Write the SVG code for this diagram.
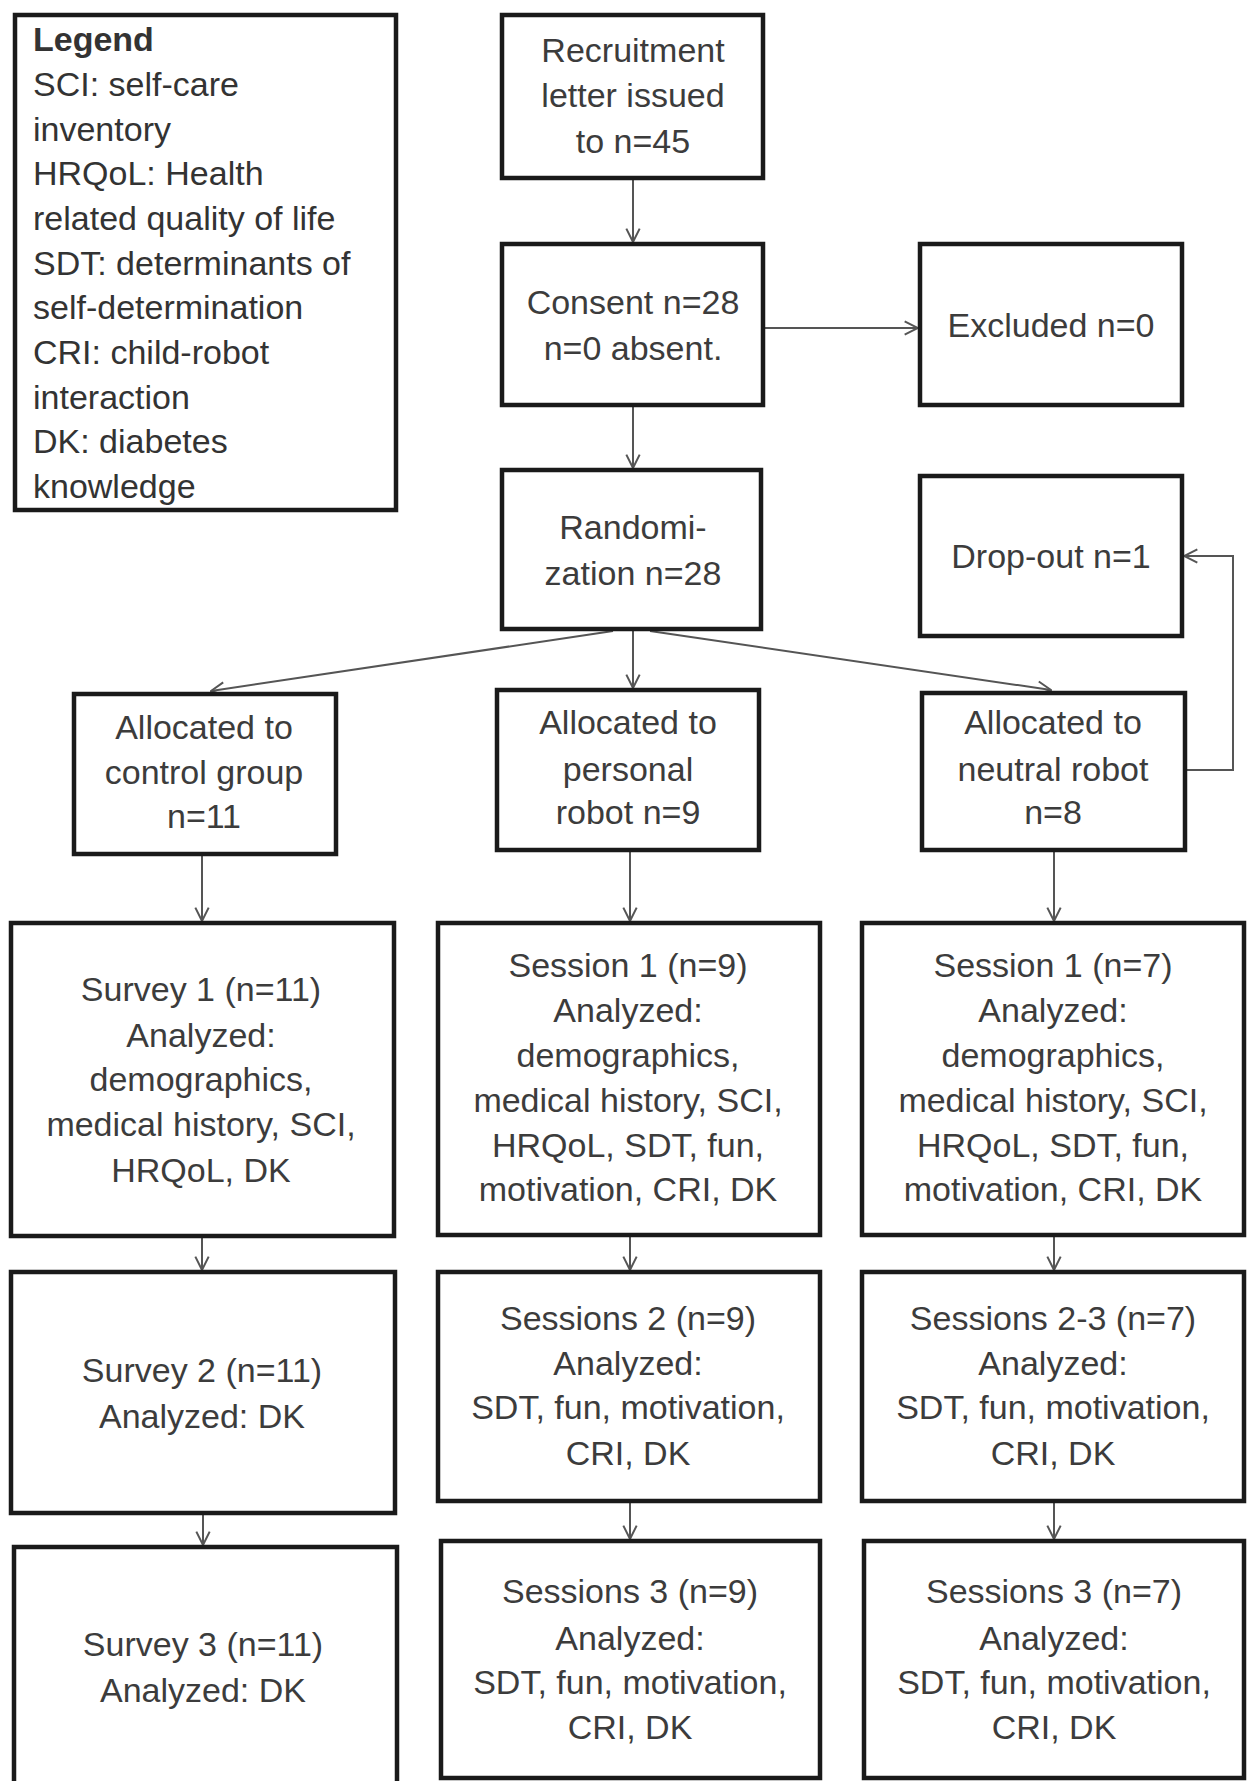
<svg xmlns="http://www.w3.org/2000/svg" width="1247" height="1781" viewBox="0 0 1247 1781">
<style>
.box{fill:#fff;stroke:#1a1a1a;stroke-width:4.5}
.t{font-family:"Liberation Sans",Arial,sans-serif;font-size:34px;fill:#3c3c3c;text-anchor:middle}
.lg{font-family:"Liberation Sans",Arial,sans-serif;font-size:34px;fill:#333}
.c{fill:none;stroke:#555;stroke-width:2}
</style>
<defs>
<marker id="arr" viewBox="0 0 12 12" refX="11" refY="6" markerWidth="16" markerHeight="16" markerUnits="userSpaceOnUse" orient="auto">
<path d="M1,1 L11,6 L1,11" fill="none" stroke="#555" stroke-width="1.5"/>
</marker>
</defs>
<rect width="1247" height="1781" fill="#fff"/>

<g id="connectors">
<line class="c" x1="633" y1="178" x2="633" y2="242" marker-end="url(#arr)"/>
<line class="c" x1="763" y1="328" x2="918" y2="328" marker-end="url(#arr)"/>
<line class="c" x1="633" y1="405" x2="633" y2="468" marker-end="url(#arr)"/>
<line class="c" x1="613" y1="631" x2="211" y2="691" marker-end="url(#arr)"/>
<line class="c" x1="633" y1="631" x2="633" y2="688" marker-end="url(#arr)"/>
<line class="c" x1="650" y1="631" x2="1051" y2="690" marker-end="url(#arr)"/>
<polyline class="c" points="1185,770 1233,770 1233,556 1184,556" marker-end="url(#arr)"/>
<line class="c" x1="202" y1="854" x2="202" y2="921" marker-end="url(#arr)"/>
<line class="c" x1="630" y1="850" x2="630" y2="921" marker-end="url(#arr)"/>
<line class="c" x1="1054" y1="850" x2="1054" y2="921" marker-end="url(#arr)"/>
<line class="c" x1="202" y1="1236" x2="202" y2="1270" marker-end="url(#arr)"/>
<line class="c" x1="630" y1="1235" x2="630" y2="1270" marker-end="url(#arr)"/>
<line class="c" x1="1054" y1="1235" x2="1054" y2="1270" marker-end="url(#arr)"/>
<line class="c" x1="203" y1="1513" x2="203" y2="1545" marker-end="url(#arr)"/>
<line class="c" x1="630" y1="1501" x2="630" y2="1539" marker-end="url(#arr)"/>
<line class="c" x1="1054" y1="1501" x2="1054" y2="1539" marker-end="url(#arr)"/>
</g>

<g id="legend">
<rect class="box" x="15" y="15" width="381" height="495"/>
<text class="lg" x="33" y="51" font-weight="bold">Legend</text>
<text class="lg" x="33" y="96">SCI: self-care</text>
<text class="lg" x="33" y="141">inventory</text>
<text class="lg" x="33" y="185">HRQoL: Health</text>
<text class="lg" x="33" y="230">related quality of life</text>
<text class="lg" x="33" y="275">SDT: determinants of</text>
<text class="lg" x="33" y="319">self-determination</text>
<text class="lg" x="33" y="364">CRI: child-robot</text>
<text class="lg" x="33" y="409">interaction</text>
<text class="lg" x="33" y="453">DK: diabetes</text>
<text class="lg" x="33" y="498">knowledge</text>
</g>

<g id="recruitment">
<rect class="box" x="502" y="15" width="261" height="163"/>
<text class="t" x="633" y="62">Recruitment</text>
<text class="t" x="633" y="107">letter issued</text>
<text class="t" x="633" y="153">to n=45</text>
</g>

<g id="consent">
<rect class="box" x="502" y="244" width="261" height="161"/>
<text class="t" x="633" y="314">Consent n=28</text>
<text class="t" x="633" y="360">n=0 absent.</text>
</g>

<g id="excluded">
<rect class="box" x="920" y="244" width="262" height="161"/>
<text class="t" x="1051" y="337">Excluded n=0</text>
</g>

<g id="randomization">
<rect class="box" x="502" y="470" width="259" height="159"/>
<text class="t" x="633" y="539">Randomi-</text>
<text class="t" x="633" y="585">zation n=28</text>
</g>

<g id="dropout">
<rect class="box" x="920" y="476" width="262" height="160"/>
<text class="t" x="1051" y="568">Drop-out n=1</text>
</g>

<g id="control">
<rect class="box" x="74" y="694" width="262" height="160"/>
<text class="t" x="204" y="739">Allocated to</text>
<text class="t" x="204" y="784">control group</text>
<text class="t" x="204" y="828">n=11</text>
</g>

<g id="personal">
<rect class="box" x="497" y="690" width="262" height="160"/>
<text class="t" x="628" y="734">Allocated to</text>
<text class="t" x="628" y="781">personal</text>
<text class="t" x="628" y="824">robot n=9</text>
</g>

<g id="neutral">
<rect class="box" x="922" y="693" width="263" height="157"/>
<text class="t" x="1053" y="734">Allocated to</text>
<text class="t" x="1053" y="781">neutral robot</text>
<text class="t" x="1053" y="824">n=8</text>
</g>

<g id="survey1">
<rect class="box" x="11" y="923" width="383" height="313"/>
<text class="t" x="201" y="1001">Survey 1 (n=11)</text>
<text class="t" x="201" y="1047">Analyzed:</text>
<text class="t" x="201" y="1091">demographics,</text>
<text class="t" x="201" y="1136">medical history, SCI,</text>
<text class="t" x="201" y="1182">HRQoL, DK</text>
</g>

<g id="session1p">
<rect class="box" x="438" y="923" width="382" height="312"/>
<text class="t" x="628" y="977">Session 1 (n=9)</text>
<text class="t" x="628" y="1022">Analyzed:</text>
<text class="t" x="628" y="1067">demographics,</text>
<text class="t" x="628" y="1112">medical history, SCI,</text>
<text class="t" x="628" y="1157">HRQoL, SDT, fun,</text>
<text class="t" x="628" y="1201">motivation, CRI, DK</text>
</g>

<g id="session1n">
<rect class="box" x="862" y="923" width="382" height="312"/>
<text class="t" x="1053" y="977">Session 1 (n=7)</text>
<text class="t" x="1053" y="1022">Analyzed:</text>
<text class="t" x="1053" y="1067">demographics,</text>
<text class="t" x="1053" y="1112">medical history, SCI,</text>
<text class="t" x="1053" y="1157">HRQoL, SDT, fun,</text>
<text class="t" x="1053" y="1201">motivation, CRI, DK</text>
</g>

<g id="survey2">
<rect class="box" x="11" y="1272" width="384" height="241"/>
<text class="t" x="202" y="1382">Survey 2 (n=11)</text>
<text class="t" x="202" y="1428">Analyzed: DK</text>
</g>

<g id="sessions2p">
<rect class="box" x="438" y="1272" width="382" height="229"/>
<text class="t" x="628" y="1330">Sessions 2 (n=9)</text>
<text class="t" x="628" y="1375">Analyzed:</text>
<text class="t" x="628" y="1419">SDT, fun, motivation,</text>
<text class="t" x="628" y="1465">CRI, DK</text>
</g>

<g id="sessions23n">
<rect class="box" x="862" y="1272" width="382" height="229"/>
<text class="t" x="1053" y="1330">Sessions 2-3 (n=7)</text>
<text class="t" x="1053" y="1375">Analyzed:</text>
<text class="t" x="1053" y="1419">SDT, fun, motivation,</text>
<text class="t" x="1053" y="1465">CRI, DK</text>
</g>

<g id="survey3">
<rect class="box" x="14" y="1547" width="383" height="250"/>
<text class="t" x="203" y="1656">Survey 3 (n=11)</text>
<text class="t" x="203" y="1702">Analyzed: DK</text>
</g>

<g id="sessions3p">
<rect class="box" x="441" y="1541" width="379" height="237"/>
<text class="t" x="630" y="1603">Sessions 3 (n=9)</text>
<text class="t" x="630" y="1650">Analyzed:</text>
<text class="t" x="630" y="1694">SDT, fun, motivation,</text>
<text class="t" x="630" y="1739">CRI, DK</text>
</g>

<g id="sessions3n">
<rect class="box" x="864" y="1541" width="380" height="237"/>
<text class="t" x="1054" y="1603">Sessions 3 (n=7)</text>
<text class="t" x="1054" y="1650">Analyzed:</text>
<text class="t" x="1054" y="1694">SDT, fun, motivation,</text>
<text class="t" x="1054" y="1739">CRI, DK</text>
</g>
</svg>
